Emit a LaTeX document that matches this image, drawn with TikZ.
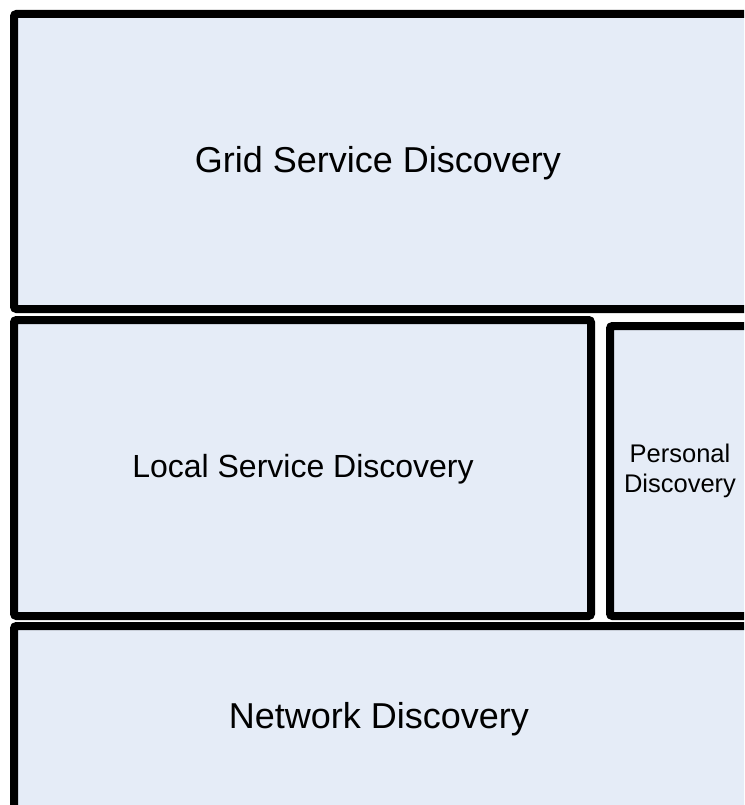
\documentclass[tikz,border=0pt]{standalone}
\usepackage{fontspec}
\setmainfont{Liberation Sans}
\definecolor{boxfill}{RGB}{229,236,247}
\tikzset{
  layerbox/.style={draw=black, fill=boxfill, line width=8pt, rounded corners=2.5pt},
  lbl/.style={anchor=base, inner sep=0pt, text=black},
}
\begin{document}
\begin{tikzpicture}[x=1pt,y=-1pt]
\useasboundingbox (0,0) rectangle (744,805);
\fill[white] (0,0) rectangle (744,805);
\clip (0,0) rectangle (744,805);
\path[layerbox] (14,14) rectangle (790,309);
\path[layerbox] (14,320) rectangle (591,616);
\path[layerbox] (610,326) rectangle (790,616);
\path[layerbox] (14,626) rectangle (790,830);
\node[lbl] (grid) at (378,173) {\fontsize{36}{43}\selectfont Grid Service Discovery};
\node[lbl] (local) at (303,477) {\fontsize{32}{38}\selectfont Local Service Discovery};
\node[lbl] (net) at (379,728) {\fontsize{36}{43}\selectfont Network Discovery};
\node[inner sep=0pt, align=center, anchor=center, font=\fontsize{25.5}{30}\selectfont] (pers) at (680,471.4) {Personal\\Discovery};
\end{tikzpicture}
\end{document}
